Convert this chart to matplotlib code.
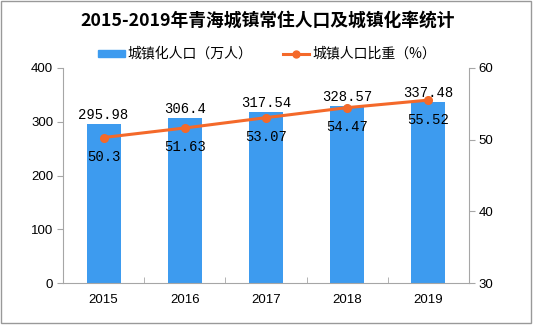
import matplotlib
matplotlib.use("Agg")
import matplotlib.pyplot as plt
from matplotlib.patches import Rectangle
from matplotlib.lines import Line2D

years = ["2015", "2016", "2017", "2018", "2019"]
pop = [295.98, 306.4, 317.54, 328.57, 337.48]
rate = [50.3, 51.63, 53.07, 54.47, 55.52]
pop_labels = ["295.98", "306.4", "317.54", "328.57", "337.48"]
rate_labels = ["50.3", "51.63", "53.07", "54.47", "55.52"]

plt.rcParams['font.family'] = ['Noto Sans CJK SC', 'DejaVu Sans']

BLUE = "#3D9BEF"
ORANGE = "#F4692A"
GRAY = "#A6A6A6"

fig = plt.figure(figsize=(5.33, 3.26), dpi=100)
ax = fig.add_axes([63/533, 1-283/326, 406/533, 215/326])
x = list(range(len(years)))
ax.bar(x, pop, width=0.42, color=BLUE, zorder=2)
ax.set_xlim(-0.5, 4.5)
ax.set_ylim(0, 400)
ax.set_yticks([0, 100, 200, 300, 400])
ax.set_xticks(x)
ax.set_xticklabels(years, fontfamily='Liberation Sans', fontsize=9.5)
ax.set_xticks([i - 0.5 for i in range(6)], minor=True)
ax.tick_params(axis='x', which='major', length=0, pad=8)
ax.tick_params(axis='x', which='minor', length=4, color=GRAY, direction='in')
ax.tick_params(axis='y', length=4, color=GRAY, labelsize=9.5, pad=3)
for lab in ax.get_yticklabels():
    lab.set_fontfamily('Liberation Sans')
for s in ['top', 'right']:
    ax.spines[s].set_visible(False)
for s in ['left', 'bottom']:
    ax.spines[s].set_color(GRAY)

for xi, v, t in zip(x, pop, pop_labels):
    ax.annotate(t, (xi, v), xytext=(0, 1.5), textcoords='offset points',
                ha='center', va='bottom', fontsize=10, fontfamily='Liberation Mono')

ax2 = ax.twinx()
ax2.plot(x, rate, color=ORANGE, lw=2.2, marker='o', ms=5.5, zorder=3)
ax2.set_ylim(30, 60)
ax2.set_yticks([30, 40, 50, 60])
ax2.tick_params(axis='y', length=4, color=GRAY, labelsize=9.5, pad=3)
for lab in ax2.get_yticklabels():
    lab.set_fontfamily('Liberation Sans')
for s in ['top', 'left', 'bottom']:
    ax2.spines[s].set_visible(False)
ax2.spines['right'].set_color(GRAY)
for xi, v, t in zip(x, rate, rate_labels):
    ax2.annotate(t, (xi, v), xytext=(0, -14), textcoords='offset points',
                 ha='center', va='center', fontsize=10, fontfamily='Liberation Mono')

fig.text(267.5/533, 1-21/326, "2015-2019年青海城镇常住人口及城镇化率统计",
         ha='center', va='center', fontsize=12.8, fontweight='bold')

# legend
fig.patches.append(Rectangle((98/533, 1-57/326), 27/533, 7/326,
                             transform=fig.transFigure, color=BLUE))
fig.text(127/533, 1-53.5/326, "城镇化人口（万人）", ha='left', va='center', fontsize=10)
fig.lines.append(Line2D([283/533, 309/533], [1-53.5/326, 1-53.5/326], transform=fig.transFigure,
                        color=ORANGE, lw=2.2))
fig.lines.append(Line2D([296/533], [1-53.5/326], transform=fig.transFigure,
                        color=ORANGE, marker='o', ms=5, lw=0))
fig.text(312/533, 1-53.5/326, "城镇人口比重（%）", ha='left', va='center', fontsize=10)

fig.patches.append(Rectangle((0.5/533, 3/326), 530/533, 322.5/326, transform=fig.transFigure,
                             fill=False, edgecolor='#999999', lw=1))

fig.savefig("out.png", dpi=100)
